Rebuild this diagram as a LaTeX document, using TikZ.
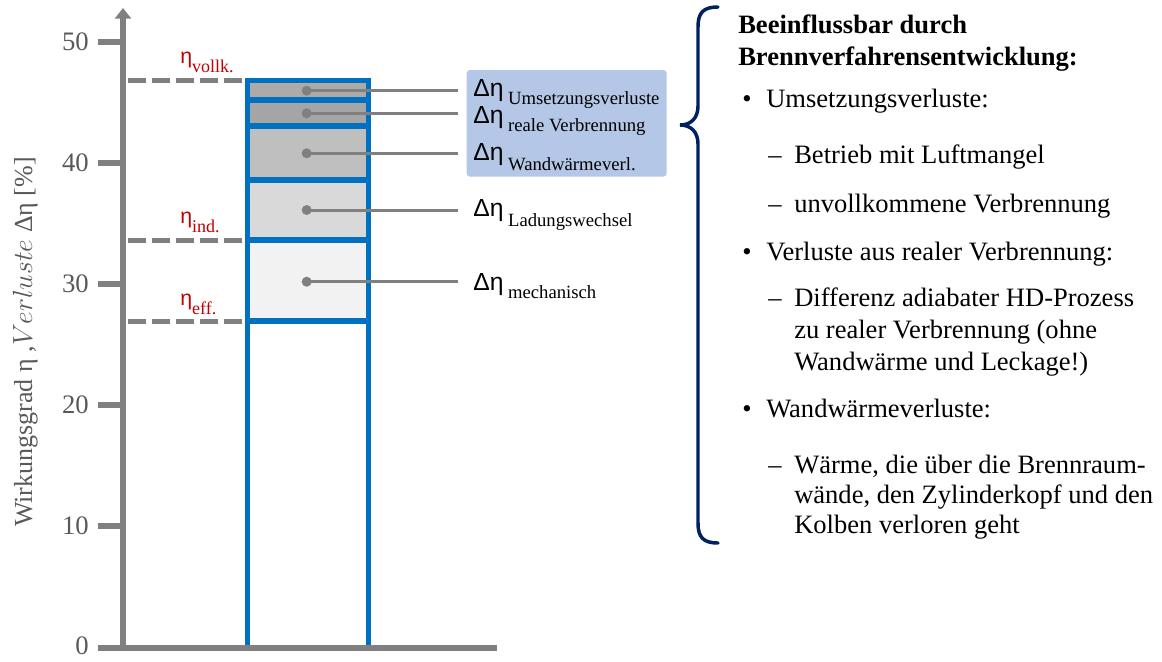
\documentclass[tikz,border=0pt]{standalone}
\usepackage{fontspec}
\setmainfont{Liberation Serif}
\newfontfamily\sansf{Liberation Sans}
\usetikzlibrary{arrows.meta}
\definecolor{axgray}{HTML}{808080}
\definecolor{labgray}{HTML}{595959}
\definecolor{myred}{HTML}{C00000}
\definecolor{myblue}{HTML}{0070C0}
\definecolor{hlblue}{HTML}{B4C7E7}
\definecolor{navy}{HTML}{002060}
\definecolor{fa}{HTML}{AEAAAA}
\definecolor{fb}{HTML}{A5A5A5}
\definecolor{fc}{HTML}{BFBFBF}
\definecolor{fd}{HTML}{D9D9D9}
\definecolor{fe}{HTML}{F2F2F2}
\newcommand\bodyfs{\fontsize{19.9}{23}\selectfont}
\newcommand\subfs{\rmfamily\fontsize{14}{16}\selectfont}
\begin{document}
\begin{tikzpicture}[x=0.75pt,y=-0.75pt,
  axisline/.style={draw=axgray,line width=4.5pt},
  tickline/.style={draw=axgray,line width=4.5pt},
  ticklab/.style={anchor=east,text=labgray,font=\fontsize{20}{20}\selectfont,inner sep=0pt},
  dashline/.style={draw=axgray,line width=3.75pt,dash pattern=on 13.5pt off 4.5pt},
  etalab/.style={anchor=base west,text=myred,inner sep=0pt,font=\sansf\fontsize{16}{18}\selectfont},
  barline/.style={draw=myblue,line width=4pt},
  sepline/.style={draw=myblue,line width=4.5pt},
  dot/.style={circle,fill=axgray,inner sep=0pt,minimum size=7.5pt},
  lead/.style={draw=axgray,line width=2.25pt},
  dlab/.style={anchor=base west,inner sep=0pt,font=\sansf\fontsize{18.5}{20}\selectfont},
  txt/.style={anchor=base west,inner sep=0pt,font=\bodyfs},
  btxt/.style={anchor=base west,inner sep=0pt,font=\bodyfs\bfseries},
  brace/.style={draw=navy,line width=2.6pt,line cap=round}
]
\useasboundingbox (0,0) rectangle (1162,661);

% bar blocks
\fill[fa] (250,80.5) rectangle (366,100.3);
\fill[fb] (250,100.3) rectangle (366,126);
\fill[fc] (250,126) rectangle (366,180.3);
\fill[fd] (250,180.3) rectangle (366,240.3);
\fill[fe] (250,240.3) rectangle (366,321.2);
\draw[barline] (247.5,647) -- (247.5,80.5) -- (368.2,80.5) -- (368.2,647);
\foreach \yy in {100.3,126,180.3,240.3,321.2}
  \draw[sepline] (247.5,\yy) -- (368.2,\yy);

% axes
\draw[axisline,-{Triangle[width=12pt,length=8pt]}] (123,651) -- (123,8);
\draw[axisline] (98,647.7) -- (497,647.7);
\foreach \yy/\lab in {41.5/50,162.5/40,283.5/30,404.5/20,525.5/10}{
  \draw[tickline] (98,\yy) -- (123,\yy);
  \node[ticklab] at (89,\yy) {\lab};
}
\node[ticklab] (t0) at (89,646) {0};

% y label
\node[rotate=90,anchor=base west,inner sep=0pt,text=labgray,font=\fontsize{19.5}{22}\selectfont] (ylab) at (32,527)
  {Wirkungsgrad η ,$Verluste$ Δη [\%]};

% dashed efficiency levels
\coordinate (v1) at (128,80.7); \coordinate (v2) at (242,80.7);
\coordinate (i1) at (128,240.3); \coordinate (i2) at (242,240.3);
\coordinate (f1) at (128,321.7); \coordinate (f2) at (242,321.7);
\draw[dashline] (v1) -- (v2);
\draw[dashline] (i1) -- (i2);
\draw[dashline] (f1) -- (f2);
\node[etalab] (ev) at (180,63.5) {η\raisebox{-6.75pt}{\rmfamily\fontsize{13.5}{15}\selectfont vollk.}};
\node[etalab] (ei) at (180,223) {η\raisebox{-6.75pt}{\rmfamily\fontsize{13.5}{15}\selectfont ind.}};
\node[etalab] (ef) at (180,305) {η\raisebox{-6.75pt}{\rmfamily\fontsize{13.5}{15}\selectfont eff.}};

% highlight box
\fill[hlblue,rounded corners=2.5pt] (466.7,70) rectangle (666.7,176.7);

% loss labels
\node[dlab] (l1) at (473,96.7) {Δη\hspace{3.5pt}\raisebox{-5.5pt}{\subfs Umsetzungsverluste}};
\node[dlab] (l2) at (473,123) {Δη\hspace{3.5pt}\raisebox{-6.5pt}{\subfs reale Verbrennung}};
\node[dlab] (l3) at (473,160) {Δη\hspace{3.5pt}\raisebox{-7.5pt}{\subfs Wandwärmeverl.}};
\node[dlab] (l4) at (473,216.7) {Δη\hspace{3.5pt}\raisebox{-7.5pt}{\subfs Ladungswechsel}};
\node[dlab] (l5) at (473,290) {Δη\hspace{3.5pt}\raisebox{-6pt}{\subfs mechanisch}};

% dots and leads
\foreach \i/\yy in {1/90.7,2/113.3,3/153.3,4/210,5/281.7}{
  \node[dot] (d\i) at (306.7,\yy) {};
  \coordinate (e\i) at (458,\yy);
  \draw[lead] (d\i.center) -- (e\i);
}

% brace
\draw[brace] (718,7) .. controls (703,7) and (698,13) .. (698,27) -- (698,106)
  .. controls (698,118) and (691,125) .. (680,125)
  .. controls (691,125) and (698,132) .. (698,144) -- (698,523)
  .. controls (698,537) and (703,543) .. (718,543);

% right text
\node[btxt] (h1) at (738,33) {Beeinflussbar durch};
\node[btxt] (h2) at (738,65) {Brennverfahrensentwicklung:};
\node[txt] (b1) at (742,107) {•};
\node[txt] (x1) at (766,107) {Umsetzungsverluste:};
\node[txt] (m1) at (768,163) {–};
\node[txt] (x2) at (794,163) {Betrieb mit Luftmangel};
\node[txt] (m2) at (768,212) {–};
\node[txt] (x3) at (794,212) {unvollkommene Verbrennung};
\node[txt] (b2) at (742,260) {•};
\node[txt] (x4) at (766,260) {Verluste aus realer Verbrennung:};
\node[txt] (m3) at (768,306) {–};
\node[txt] (x5) at (794,306) {Differenz adiabater HD-Prozess};
\node[txt] (x6) at (794,338) {zu realer Verbrennung (ohne};
\node[txt] (x7) at (794,370) {Wandwärme und Leckage!)};
\node[txt] (b3) at (742,417) {•};
\node[txt] (x8) at (766,417) {Wandwärmeverluste:};
\node[txt] (m4) at (768,473) {–};
\node[txt] (x9) at (794,473) {Wärme, die über die Brennraum-};
\node[txt] (x10) at (794,503) {wände, den Zylinderkopf und den};
\node[txt] (x11) at (794,533) {Kolben verloren geht};
\end{tikzpicture}
\end{document}
